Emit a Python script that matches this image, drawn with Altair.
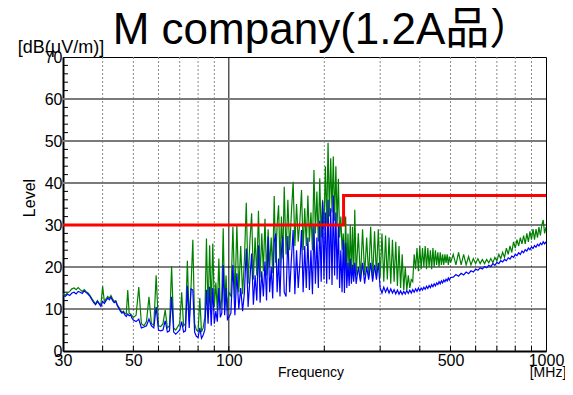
import altair as alt
import pandas as pd

TITLE = "M company(1.2A品）"
Y_UNIT = "[dB(μV/m)]"
X_UNIT = "[MHz]"
X_TITLE = "Frequency"
Y_TITLE = "Level"

X_TICKS = [30, 50, 100, 500, 1000]
Y_TICKS = [0, 10, 20, 30, 40, 50, 60, 70]
GRID_DOTTED = [40, 50, 60, 70, 80, 90, 200, 300, 400, 500, 600, 700, 800, 900]
GRID_SOLID_X = [100]
GRID_H_BLACK = [10, 20]
GRID_H_GRAY = [30, 40, 50, 60]
Y_MINOR = [2, 4, 6, 8, 12, 14, 16, 18, 22, 24, 26, 28, 32, 34, 36, 38, 42, 44, 46, 48, 52, 54, 56, 58, 62, 64, 66, 68]
X_MINOR = [40, 50, 60, 70, 80, 90, 100, 200, 300, 400, 500, 600, 700, 800, 900]

LIMIT_F = [30, 230, 230, 1000]
LIMIT_L = [30, 30, 37, 37]

# ---- measured traces (MHz, dB(uV/m)) ----
FREQ_A = [30.0, 30.5, 31.0, 31.5, 32.0, 32.5, 33.0, 33.5, 34.0, 34.5,
          35.0, 35.5, 36.0, 36.5, 37.0, 37.5, 38.0, 38.5, 39.0, 39.5,
          40.0, 40.5, 41.0, 41.5, 42.0, 42.5, 43.0, 43.5, 44.0, 44.5,
          45.0, 45.5, 46.0, 46.5, 47.0, 47.5, 48.0, 48.5, 49.0, 49.5, 50.0]
GREEN_A = [13.6, 13.3, 13.8, 14.2, 14.8, 15.0, 14.6, 15.1, 14.6, 14.2,
           14.6, 14.1, 13.8, 13.2, 12.5, 11.8, 11.2, 12.0, 11.4, 11.0,
           15.4, 11.8, 12.4, 13.0, 12.6, 13.2, 12.4, 11.8, 12.0, 11.0,
           10.4, 9.8, 9.2, 9.5, 9.0, 8.8, 14.5, 9.0, 8.8, 8.4, 8.0]
BLUE_A = [13.2, 13.0, 13.5, 13.2, 13.8, 14.0, 13.6, 14.2, 14.0, 13.7,
          14.3, 13.9, 13.5, 13.0, 12.2, 11.5, 11.0, 11.8, 11.2, 10.6,
          11.8, 11.3, 12.0, 12.6, 12.2, 12.8, 12.0, 11.5, 11.8, 10.8,
          10.2, 9.5, 9.0, 9.3, 8.6, 8.2, 8.8, 8.4, 8.6, 7.8, 7.4]

FREQ_B = [51, 52, 53, 54, 55, 56, 57, 58, 59, 60,
          61, 62, 63, 64, 65, 66, 67, 68, 69, 70,
          71, 72, 73, 74, 75, 76, 77, 78, 79, 80,
          81, 82, 83, 84, 85, 86, 87, 88, 89, 90,
          91, 92, 93, 94, 95, 96, 97, 98, 99, 100]
GREEN_B = [8.5, 15.2, 6.5, 6.0, 7.0, 12.9, 6.5, 6.2, 18.0, 6.0,
           5.8, 6.5, 9.8, 5.5, 6.0, 20.2, 5.5, 5.0, 5.8, 6.5,
           14.0, 6.0, 6.5, 21.5, 7.0, 15.3, 26.5, 6.5, 5.0, 4.6,
           12.6, 4.5, 5.5, 8.0, 26.8, 9.0, 25.2, 10.0, 25.6, 10.5,
           16.3, 9.5, 22.0, 10.0, 12.5, 29.2, 10.5, 18.0, 9.5, 14.0]
BLUE_B = [7.0, 7.6, 5.5, 5.7, 6.0, 7.6, 6.0, 5.5, 10.5, 5.0,
          4.8, 5.0, 7.2, 4.5, 4.8, 12.9, 4.5, 4.0, 4.5, 5.0,
          7.0, 4.5, 4.8, 15.5, 5.5, 14.8, 14.5, 4.5, 3.5, 3.2,
          5.5, 3.0, 3.8, 5.0, 14.6, 6.5, 15.3, 6.0, 15.0, 6.5,
          9.5, 7.0, 15.0, 8.0, 9.0, 20.5, 8.5, 15.0, 7.5, 8.0]

FREQ_C1 = [101.5, 103, 104.5, 106, 107.5, 109, 110.5, 112, 113.5, 115,
           116.5, 118, 119.5, 121, 122.5, 124, 125.5, 127, 128.5, 130,
           131.5, 133, 134.5, 136, 137.5, 139, 140.5, 142, 143.5, 145,
           146.5, 148, 149.5]
GREEN_C1 = [13, 29.6, 12.5, 30.0, 14, 25, 13.5, 22, 35.3, 16,
            26, 32.8, 17, 27, 18, 33.4, 17.5, 28, 19, 31.5,
            18, 29, 20, 27, 18.5, 36.9, 21, 30, 34.7, 20,
            32, 22, 39.1]
BLUE_C1 = [9, 20.5, 8.5, 18.5, 10, 15, 9.5, 14, 24.4, 10.5,
           17, 23.2, 11, 18, 12, 25.2, 11.5, 19, 13, 21.3,
           12, 27.2, 14, 20, 12.5, 26, 28, 14, 22, 13,
           24, 27.2, 14]

FREQ_C2 = [151.5, 153.5, 155.5, 157.5, 159.5, 161.5, 163.5, 165.5, 167.5, 169.5,
           171.5, 173.5, 175.5, 177.5, 179.5, 181.5, 183.5, 185.5, 187.5, 189.5,
           191.5, 193.5, 195.5, 197.5, 199.5, 201.5, 203.5, 205.5, 207.5, 209.5,
           211.5, 213.5, 215.5, 217.5, 219.5, 221.5, 223.5, 225.5, 227.5, 229.5,
           231.5, 233.5, 235.5, 237.5, 239.5, 241.5, 243.5, 245.5, 247.5, 249.5]
GREEN_C2 = [23, 36, 24, 33, 40.3, 25, 35, 26, 31, 38.3,
            24, 34, 25, 37, 26, 33, 24, 43.1, 28, 38,
            26, 41.1, 27, 36, 29, 44, 30, 49.6, 32, 45.9,
            33, 46.3, 31, 44, 30, 41, 27, 32, 24, 28,
            20, 32, 19, 28, 18, 30, 19, 29.6, 17.5, 33.6]
BLUE_C2 = [13, 27.4, 14, 22, 28.8, 13.5, 24, 15, 21, 28.8,
           14, 25, 15, 27, 14.5, 24, 13.5, 30, 16, 27,
           15, 31, 16.5, 35.6, 17, 33, 16, 36, 17, 34,
           15.7, 37, 18, 33, 17, 30, 15, 24, 14, 26.4,
           13.8, 25.7, 15, 21, 15.5, 22, 16, 20.5, 16.5, 21]

FREQ_D = [252, 256, 260, 264, 268, 272, 276, 280, 284, 288,
          292, 296, 300, 304, 308, 312, 316, 320, 324, 328,
          332, 336, 340, 344, 348, 352, 356, 360, 364, 368,
          372, 376, 380, 384, 388, 392, 396, 400, 404, 408,
          412, 416, 420, 424, 428, 432, 436, 440, 444, 448,
          452, 456, 460, 464, 468, 472, 476, 480, 484, 488,
          492, 496, 500]
GREEN_D = [18, 28, 17, 29, 18, 27, 17.5, 29.6, 17, 28.5,
           18, 29, 17.5, 28, 16.5, 27.5, 17, 27, 16, 26.5,
           16.5, 26, 15.5, 25, 15, 23, 14.5, 20, 14.5, 18,
           15, 17, 16.5, 23, 19.5, 24.5, 19, 25, 19.5, 24.5,
           20, 25, 19.5, 24.5, 20, 24, 19.5, 24.5, 20, 24,
           20.5, 23.5, 20, 23.5, 20.5, 23, 20.5, 23, 21, 23,
           20.5, 22.5, 21]
BLUE_D = [16, 20, 16.5, 21, 16, 20, 17, 21, 16.5, 20.5,
          17, 21, 15, 13.8, 15.2, 14, 15, 13.8, 14.8, 13.8,
          14.6, 13.6, 14.5, 13.5, 14.3, 13.5, 14.2, 13.6, 14.4, 13.7,
          14.5, 13.8, 14.6, 14.0, 14.8, 14.2, 15.0, 14.3, 15.0, 14.5,
          15.2, 14.7, 15.4, 14.9, 15.6, 15.1, 15.8, 15.3, 16.0, 15.5,
          16.2, 15.8, 16.5, 16.0, 16.7, 16.2, 16.9, 16.5, 17.1, 16.7,
          17.4, 16.9, 17.5]

FREQ_E = [510, 520, 530, 540, 550, 560, 570, 580, 590, 600,
          610, 620, 630, 640, 650, 660, 670, 680, 690, 700,
          710, 720, 730, 740, 750, 760, 770, 780, 790, 800,
          810, 820, 830, 840, 850, 860, 870, 880, 890, 900,
          910, 920, 930, 940, 950, 960, 970, 980, 990, 1000]
GREEN_E = [23, 20.5, 23.5, 20.5, 23, 20.5, 22.5, 20.5, 22, 20.8,
           22, 20.8, 21.8, 20.8, 21.8, 21, 22, 21, 22.3, 21.5,
           23, 22, 23.5, 22.3, 24.5, 23, 25, 23.5, 26, 24.5,
           26.5, 25, 27, 25.5, 27.5, 25.5, 28, 26, 28.5, 26.5,
           29, 26.5, 29, 27, 29.5, 27.5, 30, 31.2, 28, 29.5]
BLUE_E = [17.6, 18.2, 17.8, 18.5, 18.1, 18.8, 18.4, 19.1, 18.8, 19.5,
          19.2, 19.8, 19.5, 20.1, 19.8, 20.4, 20.1, 20.8, 20.4, 21.1,
          20.8, 21.5, 21.2, 21.8, 21.5, 22.2, 21.9, 22.6, 22.3, 23.0,
          22.7, 23.4, 23.0, 23.8, 23.4, 24.1, 23.8, 24.5, 24.1, 24.8,
          24.4, 25.1, 24.7, 25.4, 25.0, 25.7, 25.3, 26.0, 25.5, 26.0]

FREQ = FREQ_A + FREQ_B + FREQ_C1 + FREQ_C2 + FREQ_D + FREQ_E
GREEN = GREEN_A + GREEN_B + GREEN_C1 + GREEN_C2 + GREEN_D + GREEN_E
BLUE = BLUE_A + BLUE_B + BLUE_C1 + BLUE_C2 + BLUE_D + BLUE_E

W, H = 483, 294
PAD = {"left": 55, "top": 49, "right": 19, "bottom": 31}
FONT = "Liberation Sans, Arial, Noto Sans CJK JP, sans-serif"

xs = alt.Scale(type="log", domain=[30, 1000], nice=False)
ys = alt.Scale(domain=[0, 70], nice=False)

green_df = pd.DataFrame({"freq": FREQ, "level": GREEN})
blue_df = pd.DataFrame({"freq": FREQ, "level": BLUE})
limit_df = pd.DataFrame({"freq": LIMIT_F, "level": LIMIT_L, "i": list(range(len(LIMIT_F)))})

x_axis = alt.Axis(values=X_TICKS, format="d", title=None, grid=False, ticks=False, tickSize=0,
                  labelFontSize=16, labelFont=FONT, labelColor="black", labelPadding=1,
                  domainColor="black", domainWidth=2, labelFlush=False, labelOverlap=False)
y_axis = alt.Axis(values=Y_TICKS, title=None, grid=False, ticks=False, tickSize=0,
                  labelFontSize=16, labelFont=FONT, labelColor="black", labelPadding=1,
                  domainColor="black", domainWidth=2, labelOverlap=False)

XF = lambda f: alt.X(f, scale=xs, axis=x_axis)
YF = lambda f: alt.Y(f, scale=ys, axis=y_axis)

vgrid = alt.Chart(pd.DataFrame({"f": GRID_DOTTED})).mark_rule(
    color="#8a8a8a", strokeDash=[2, 2], strokeWidth=1).encode(x=XF("f:Q"))
vsolid = alt.Chart(pd.DataFrame({"f": GRID_SOLID_X})).mark_rule(
    color="black", strokeWidth=1).encode(x=XF("f:Q"))
hblack = alt.Chart(pd.DataFrame({"v": GRID_H_BLACK})).mark_rule(
    color="black", strokeWidth=1).encode(y=YF("v:Q"))
hgray = alt.Chart(pd.DataFrame({"v": GRID_H_GRAY})).mark_rule(
    color="#7a7a7a", strokeWidth=2).encode(y=YF("v:Q"))
yminor = alt.Chart(pd.DataFrame({"v": Y_MINOR})).mark_rule(
    color="black", strokeWidth=1).encode(y=YF("v:Q"), x=alt.value(0), x2=alt.value(5))
xminor = alt.Chart(pd.DataFrame({"f": X_MINOR})).mark_rule(
    color="black", strokeWidth=1).encode(x=XF("f:Q"), y=alt.value(H - 5), y2=alt.value(H))

green_line = alt.Chart(green_df).mark_line(color="#008000", strokeWidth=1.2, clip=True).encode(
    x=XF("freq:Q"), y=YF("level:Q"))
blue_line = alt.Chart(blue_df).mark_line(color="#0000ff", strokeWidth=1.2, clip=True).encode(
    x=XF("freq:Q"), y=YF("level:Q"))
limit_line = alt.Chart(limit_df).mark_line(color="#ff0000", strokeWidth=3).encode(
    x=XF("freq:Q"), y=YF("level:Q"), order="i:Q")


def label(txt, x, y, size, angle=0, align="center", baseline="middle"):
    m = alt.Chart(pd.DataFrame({"t": [txt]})).mark_text(
        font=FONT, fontSize=size, color="black", align=align, baseline=baseline, angle=angle)
    return m.encode(text="t:N", x=alt.value(x), y=alt.value(y))


title_t = label(TITLE, 260, -13, 44, baseline="alphabetic")
yunit_t = label(Y_UNIT, -2, -9, 18)
ytitle_t = label(Y_TITLE, -33, 141, 16, angle=270)
xtitle_t = label(X_TITLE, 248, 316, 14)
xunit_t = label(X_UNIT, 485, 316, 14)

chart = alt.layer(
    vgrid, vsolid, hgray, hblack, yminor, xminor,
    green_line, blue_line, limit_line,
    title_t, yunit_t, ytitle_t, xtitle_t, xunit_t
).properties(
    width=W, height=H,
    autosize=alt.AutoSizeParams(type="none"),
    padding=PAD,
    background="white",
).configure_view(stroke="black", strokeWidth=1)

chart.save("out.html", embed_options={"renderer": "svg", "actions": False})
